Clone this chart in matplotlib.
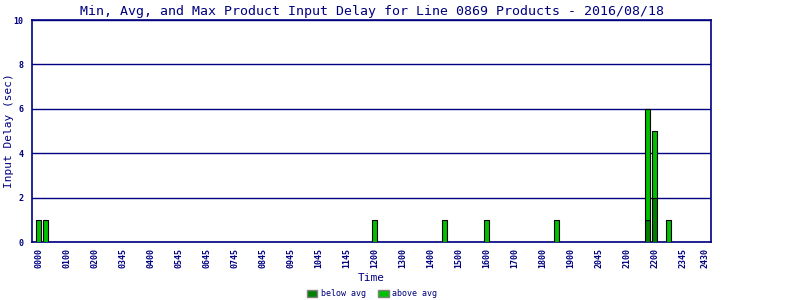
import matplotlib.pyplot as plt
from matplotlib.patches import Patch

# 15-minute slots (0..95) and delays in seconds
slots = [0, 1, 48, 58, 64, 74, 87, 88, 90]
below_avg = [0, 0, 0, 0, 0, 0, 1, 2, 0]
above_avg = [1, 1, 1, 1, 1, 1, 5, 3, 1]

tick_labels = ['0000', '0100', '0200', '0345', '0400', '0545', '0645', '0745', '0845',
               '0945', '1045', '1145', '1200', '1300', '1400', '1500', '1600', '1700',
               '1800', '1900', '2045', '2100', '2200', '2345', '2430']
tick_pos = [4 * i for i in range(24)] + [95.2]

navy = '#000080'
dark_green = '#008000'
light_green = '#00c000'

plt.rcParams['font.family'] = 'DejaVu Sans Mono'

fig = plt.figure(figsize=(8, 3), dpi=100)
ax = fig.add_axes([0.04, 0.193, 0.849, 0.74])

ax.bar(slots, below_avg, width=0.75, color=dark_green, edgecolor='black', linewidth=0.8, zorder=3)
ax.bar(slots, above_avg, width=0.75, bottom=below_avg, color=light_green, edgecolor='black',
       linewidth=0.8, zorder=3)

ax.set_xlim(-0.93, 96.07)
ax.set_ylim(0, 10)
ax.set_yticks([0, 2, 4, 6, 8, 10])
ax.set_xticks(tick_pos)
ax.set_xticklabels(tick_labels, rotation=90, fontsize=6, color=navy, fontweight='bold')
for lbl in ax.get_yticklabels():
    lbl.set_fontweight('bold')
ax.tick_params(axis='y', labelsize=6, colors=navy, length=0, pad=6)
ax.tick_params(axis='x', length=0, pad=4)
ax.grid(axis='y', color=navy, linewidth=1, zorder=1)
for s in ax.spines.values():
    s.set_color(navy)
    s.set_linewidth(1.2)

ax.set_title('Min, Avg, and Max Product Input Delay for Line 0869 Products - 2016/08/18',
             fontsize=9.5, color=navy, pad=4)
fig.text(0.011, 0.563, 'Input Delay (sec)', rotation=90, fontsize=8, color=navy,
         ha='center', va='center')
ax.set_xlabel('Time', fontsize=8, color=navy, labelpad=4)

handles = [Patch(facecolor=dark_green, edgecolor='gray', label='below avg'),
           Patch(facecolor=light_green, edgecolor='gray', label='above avg')]
fig.legend(handles=handles, loc='lower center', bbox_to_anchor=(0.465, -0.02), ncol=2,
           frameon=False, fontsize=6, handlelength=1.3, handleheight=0.8,
           columnspacing=1.5, handletextpad=0.4, labelcolor=navy)

fig.savefig('out.png', dpi=100)
